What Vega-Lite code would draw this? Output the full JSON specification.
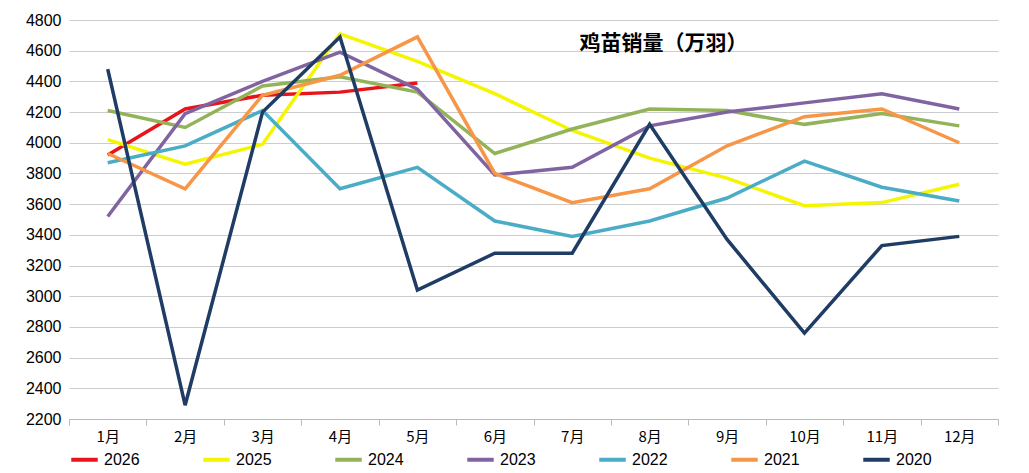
{
  "$schema": "https://vega.github.io/schema/vega-lite/v6.json",
  "autosize": {"type": "fit", "contains": "padding"},
  "width": 1029,
  "height": 473,
  "padding": {"left": 25, "right": 30, "top": 12, "bottom": 5},
  "background": "white",
  "title": {"text": "鸡苗销量（万羽）", "font": "Noto Sans CJK SC", "fontSize": 21, "fontWeight": "bold", "color": "#000", "anchor": "middle", "dx": 130, "offset": -42},
  "data": {"values": [
    {"m":"1月","s":"2026","v":3920},{"m":"2月","s":"2026","v":4220},{"m":"3月","s":"2026","v":4310},{"m":"4月","s":"2026","v":4330},{"m":"5月","s":"2026","v":4390},
    {"m":"1月","s":"2025","v":4020},{"m":"2月","s":"2025","v":3860},{"m":"3月","s":"2025","v":3990},{"m":"4月","s":"2025","v":4710},{"m":"5月","s":"2025","v":4530},{"m":"6月","s":"2025","v":4320},{"m":"7月","s":"2025","v":4080},{"m":"8月","s":"2025","v":3900},{"m":"9月","s":"2025","v":3770},{"m":"10月","s":"2025","v":3590},{"m":"11月","s":"2025","v":3610},{"m":"12月","s":"2025","v":3730},
    {"m":"1月","s":"2024","v":4210},{"m":"2月","s":"2024","v":4100},{"m":"3月","s":"2024","v":4370},{"m":"4月","s":"2024","v":4430},{"m":"5月","s":"2024","v":4330},{"m":"6月","s":"2024","v":3930},{"m":"7月","s":"2024","v":4090},{"m":"8月","s":"2024","v":4220},{"m":"9月","s":"2024","v":4210},{"m":"10月","s":"2024","v":4120},{"m":"11月","s":"2024","v":4190},{"m":"12月","s":"2024","v":4110},
    {"m":"1月","s":"2023","v":3520},{"m":"2月","s":"2023","v":4190},{"m":"3月","s":"2023","v":4400},{"m":"4月","s":"2023","v":4590},{"m":"5月","s":"2023","v":4350},{"m":"6月","s":"2023","v":3790},{"m":"7月","s":"2023","v":3840},{"m":"8月","s":"2023","v":4110},{"m":"9月","s":"2023","v":4200},{"m":"10月","s":"2023","v":4260},{"m":"11月","s":"2023","v":4320},{"m":"12月","s":"2023","v":4220},
    {"m":"1月","s":"2022","v":3870},{"m":"2月","s":"2022","v":3980},{"m":"3月","s":"2022","v":4210},{"m":"4月","s":"2022","v":3700},{"m":"5月","s":"2022","v":3840},{"m":"6月","s":"2022","v":3490},{"m":"7月","s":"2022","v":3390},{"m":"8月","s":"2022","v":3490},{"m":"9月","s":"2022","v":3640},{"m":"10月","s":"2022","v":3880},{"m":"11月","s":"2022","v":3710},{"m":"12月","s":"2022","v":3620},
    {"m":"1月","s":"2021","v":3930},{"m":"2月","s":"2021","v":3700},{"m":"3月","s":"2021","v":4310},{"m":"4月","s":"2021","v":4440},{"m":"5月","s":"2021","v":4690},{"m":"6月","s":"2021","v":3800},{"m":"7月","s":"2021","v":3610},{"m":"8月","s":"2021","v":3700},{"m":"9月","s":"2021","v":3980},{"m":"10月","s":"2021","v":4170},{"m":"11月","s":"2021","v":4220},{"m":"12月","s":"2021","v":4000},
    {"m":"1月","s":"2020","v":4480},{"m":"2月","s":"2020","v":2290},{"m":"3月","s":"2020","v":4200},{"m":"4月","s":"2020","v":4690},{"m":"5月","s":"2020","v":3040},{"m":"6月","s":"2020","v":3280},{"m":"7月","s":"2020","v":3280},{"m":"8月","s":"2020","v":4120},{"m":"9月","s":"2020","v":3370},{"m":"10月","s":"2020","v":2760},{"m":"11月","s":"2020","v":3330},{"m":"12月","s":"2020","v":3390}
  ]},
  "mark": {"type": "line", "strokeWidth": 3.5},
  "encoding": {
    "x": {"field": "m", "type": "ordinal", "sort": null, "title": null, "scale": {"type": "band"},
      "axis": {"labelAngle": 0, "labelFont": "Noto Sans CJK SC", "labelFontSize": 15, "labelColor": "#000", "domainColor": "#bbb", "ticks": true, "tickBand": "extent", "tickColor": "#bbb", "tickSize": 6, "grid": false, "labelPadding": 4}},
    "y": {"field": "v", "type": "quantitative", "title": null, "scale": {"domain": [2200, 4800], "nice": false},
      "axis": {"values": [2200,2400,2600,2800,3000,3200,3400,3600,3800,4000,4200,4400,4600,4800], "format": "d", "labelFont": "Liberation Sans", "labelFontSize": 16, "labelColor": "#000", "gridColor": "#ccc", "domain": false, "ticks": false, "labelPadding": 8}},
    "color": {"field": "s", "type": "nominal", "sort": ["2026","2025","2024","2023","2022","2021","2020"],
      "scale": {"domain": ["2026","2025","2024","2023","2022","2021","2020"], "range": ["#e8141a","#f5f500","#93b35a","#8064a2","#4bacc6","#f79646","#1f3c64"]},
      "legend": {"orient": "bottom", "direction": "horizontal", "title": null, "symbolType": "stroke", "symbolStrokeWidth": 4, "symbolSize": 700, "labelFont": "Liberation Sans", "labelFontSize": 16, "labelColor": "#000", "columnPadding": 55, "offset": 0}}
  },
  "config": {"view": {"stroke": null}}
}
